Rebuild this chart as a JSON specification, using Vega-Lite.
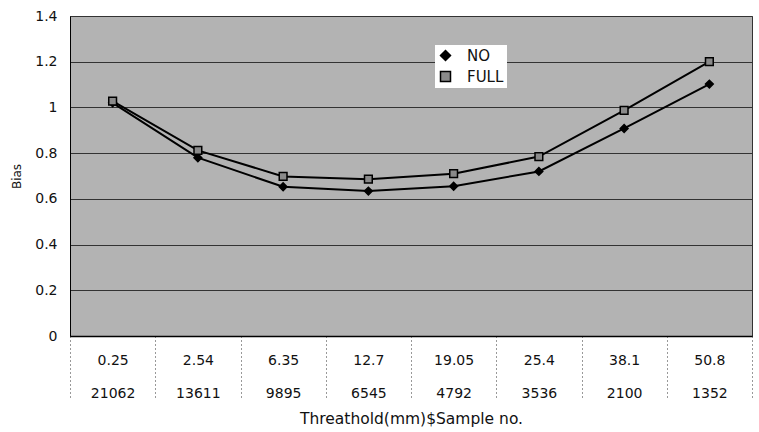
{
  "$schema": "https://vega.github.io/schema/vega-lite/v6.json",
  "width": 682,
  "height": 320,
  "autosize": {"type": "none"},
  "padding": {"left": 70, "top": 16, "right": 7, "bottom": 96},
  "background": "white",
  "config": {
    "font": "DejaVu Sans",
    "view": {"fill": "#b3b3b3", "stroke": "#333333", "strokeWidth": 1}
  },
  "data": {
    "values": [
      {"label": "0.25|21062", "series": "NO", "bias": 1.02},
      {"label": "2.54|13611", "series": "NO", "bias": 0.78},
      {"label": "6.35|9895", "series": "NO", "bias": 0.653},
      {"label": "12.7|6545", "series": "NO", "bias": 0.634},
      {"label": "19.05|4792", "series": "NO", "bias": 0.655},
      {"label": "25.4|3536", "series": "NO", "bias": 0.72},
      {"label": "38.1|2100", "series": "NO", "bias": 0.908},
      {"label": "50.8|1352", "series": "NO", "bias": 1.102},
      {"label": "0.25|21062", "series": "FULL", "bias": 1.028},
      {"label": "2.54|13611", "series": "FULL", "bias": 0.812},
      {"label": "6.35|9895", "series": "FULL", "bias": 0.698},
      {"label": "12.7|6545", "series": "FULL", "bias": 0.686},
      {"label": "19.05|4792", "series": "FULL", "bias": 0.71},
      {"label": "25.4|3536", "series": "FULL", "bias": 0.785},
      {"label": "38.1|2100", "series": "FULL", "bias": 0.987},
      {"label": "50.8|1352", "series": "FULL", "bias": 1.2}
    ]
  },
  "encoding": {
    "x": {
      "field": "label",
      "type": "nominal",
      "sort": null,
      "scale": {"paddingInner": 0, "paddingOuter": 0},
      "axis": {
        "title": "Threathold(mm)$Sample no.",
        "titleFontSize": 15.5,
        "titleFontWeight": "normal",
        "titleColor": "#111",
        "titleY": 75,
        "labelExpr": "split(datum.label, '|')",
        "labelAngle": 0,
        "labelFontSize": 14,
        "labelColor": "#111",
        "labelLineHeight": 33,
        "labelPadding": -47,
        "labelBaseline": "top",
        "tickBand": "extent",
        "tickSize": 64,
        "tickDash": [1, 3],
        "tickColor": "#333",
        "domainColor": "#000",
        "domainWidth": 1.5,
        "grid": false
      }
    },
    "y": {
      "field": "bias",
      "type": "quantitative",
      "scale": {"domain": [0, 1.4], "nice": false},
      "axis": {
        "title": "Bias",
        "titleFontSize": 12,
        "titleFontWeight": "normal",
        "titleColor": "#111",
        "titlePadding": 11,
        "values": [0, 0.2, 0.4, 0.6, 0.8, 1, 1.2, 1.4],
        "format": "~g",
        "labelFontSize": 14,
        "labelColor": "#111",
        "labelPadding": 13,
        "ticks": false,
        "domainColor": "#000",
        "gridColor": "#333",
        "gridWidth": 1
      }
    }
  },
  "layer": [
    {
      "mark": {"type": "line", "color": "#000", "strokeWidth": 2},
      "encoding": {"detail": {"field": "series"}}
    },
    {
      "mark": {"type": "point", "filled": true, "size": 60, "stroke": "#000", "strokeWidth": 1.5, "opacity": 1},
      "encoding": {
        "shape": {
          "field": "series",
          "type": "nominal",
          "scale": {"domain": ["NO", "FULL"], "range": ["diamond", "square"]},
          "legend": {
            "title": null,
            "orient": "none",
            "legendX": 365,
            "legendY": 29,
            "fillColor": "white",
            "padding": 3,
            "labelFontSize": 15,
            "labelColor": "#111",
            "labelOffset": 14,
            "symbolSize": 100,
            "rowPadding": 4,
            "encode": {
              "symbols": {
                "stroke": {"value": "#000"},
                "strokeWidth": {"value": 1.5}
              }
            }
          }
        },
        "fill": {
          "field": "series",
          "type": "nominal",
          "scale": {"domain": ["NO", "FULL"], "range": ["#000000", "#8a8a8a"]},
          "legend": {
            "title": null,
            "orient": "none",
            "legendX": 365,
            "legendY": 29,
            "fillColor": "white",
            "padding": 3,
            "labelFontSize": 15,
            "labelColor": "#111",
            "labelOffset": 14,
            "symbolSize": 100,
            "rowPadding": 4,
            "encode": {
              "symbols": {
                "stroke": {"value": "#000"},
                "strokeWidth": {"value": 1.5}
              }
            }
          }
        }
      }
    }
  ]
}
